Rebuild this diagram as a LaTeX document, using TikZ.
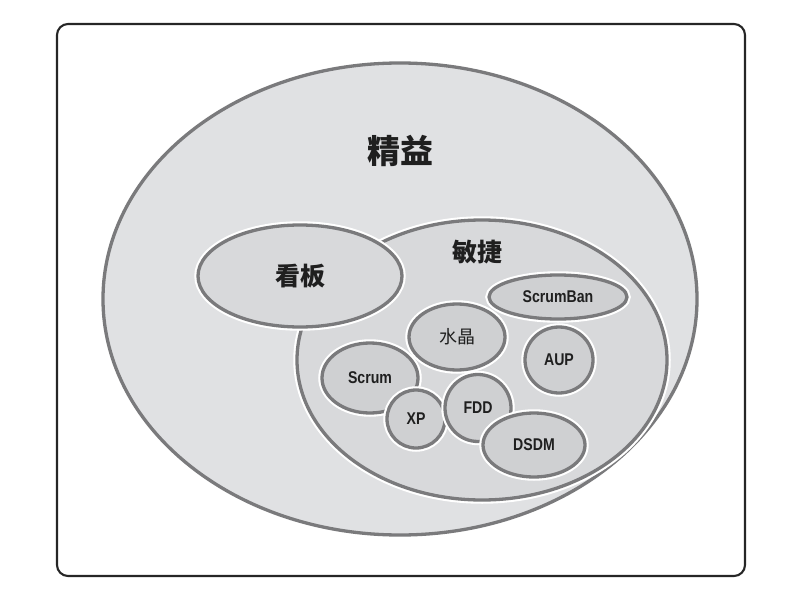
\documentclass[tikz,border=0pt]{standalone}
\usepackage{fontspec}
\setmainfont{Liberation Sans}[FakeStretch=0.83]
\newfontfamily\cjk{Noto Sans CJK SC}
\usetikzlibrary{shapes.geometric}
\definecolor{leanfill}{RGB}{224,225,227}
\definecolor{agilefill}{RGB}{216,217,219}
\definecolor{methfill}{RGB}{207,208,210}
\definecolor{rimgray}{RGB}{122,122,124}

\begin{document}
\begin{tikzpicture}[x=1pt,y=-1pt,
  blob/.style={ellipse,inner sep=0pt,draw=rimgray,line width=3.3pt,
               preaction={draw=white,line width=7.5pt},fill=methfill,
               text=black!88,font=\bfseries\fontsize{17}{18}\selectfont},
  big/.style={text=black!88,font=\cjk\bfseries\fontsize{#1}{#1}\selectfont}]
  \useasboundingbox (0,0) rectangle (790,594);
  \draw[line width=2.1pt,rounded corners=11pt,black!85] (57,24) rectangle (745,576);
  % lean
  \node[blob,fill=leanfill,minimum width=594pt,minimum height=472pt] (lean) at (400,299){};
  \node[big=33] (leantext) at (400,151){精益};
  % agile
  \node[blob,fill=agilefill,minimum width=370pt,minimum height=280pt] (agile) at (482,360){};
  \node[big=25] (agiletext) at (477,252){敏捷};
  % kanban
  \node[blob,fill=agilefill,minimum width=204pt,minimum height=102pt,
        font=\cjk\bfseries\fontsize{25}{25}\selectfont] (kanban) at (300,276){\raisebox{-4pt}{看板}};
  % methods
  \node[blob,minimum width=138pt,minimum height=44pt] (scrumban) at (558,297){ScrumBan};
  \node[blob,minimum width=96pt,minimum height=66pt,
        font=\cjk\fontsize{18}{18}\selectfont] (crystal) at (457,337){水晶};
  \node[blob,minimum width=68pt,minimum height=66pt] (aup) at (559,360){AUP};
  \node[blob,minimum width=96pt,minimum height=70pt] (scrum) at (370,378){Scrum};
  \node[blob,minimum width=58pt,minimum height=58pt] (xp) at (416,419){XP};
  \node[blob,minimum width=66pt,minimum height=67pt] (fdd) at (478,408){FDD};
  \node[blob,minimum width=102pt,minimum height=64pt] (dsdm) at (534,445){DSDM};
\end{tikzpicture}
\end{document}
